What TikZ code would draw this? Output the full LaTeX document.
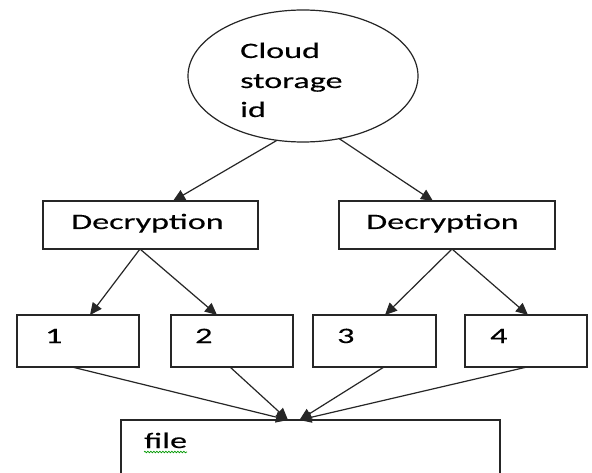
\documentclass[tikz,border=0pt]{standalone}
\usepackage{fontspec}
\setmainfont{Carlito}[FakeStretch=1.55,FakeBold=0.3]
\usetikzlibrary{arrows.meta,calc,shapes.geometric,decorations.pathmorphing}
\begin{document}
\begin{tikzpicture}[x=1pt,y=-1pt,
  box/.style={draw=black!85, line width=1.3pt, rectangle, inner sep=0pt, outer sep=0pt},
  lbl/.style={inner sep=0pt, anchor=base west, font=\fontsize{22}{29.5}\selectfont, text=black},
  conn/.style={draw=black!85, line width=1.2pt, -{Triangle[length=12pt,width=11pt]}},
]
\clip (0,0) rectangle (592,473);
\fill[white] (0,0) rectangle (592,473);
% shapes
\node[draw=black!85, line width=1.2pt, ellipse, inner sep=0pt, outer sep=0pt,
      minimum width=230, minimum height=132] (cloud) at (303,76) {};
\node[box, minimum width=215, minimum height=48] (d1) at (150.5,225) {};
\node[box, minimum width=216, minimum height=48] (d2) at (447,225) {};
\node[box, minimum width=122, minimum height=52] (b1) at (78,341) {};
\node[box, minimum width=122, minimum height=52] (b2) at (232,341) {};
\node[box, minimum width=123, minimum height=52] (b3) at (374.5,341) {};
\node[box, minimum width=122, minimum height=52] (b4) at (526,341) {};
\node[box, minimum width=379, minimum height=70] (file) at (310.5,455) {};
% texts
\node[lbl] (t1) at (240,58) {Cloud};
\node[lbl] (t2) at (240,88) {storage};
\node[lbl] (t3) at (240,117) {id};
\node[lbl] (td1) at (71,229) {Decryption};
\node[lbl] (td2) at (366,229) {Decryption};
\node[lbl] (tb1) at (45,343) {1};
\node[lbl] (tb2) at (195,343) {2};
\node[lbl] (tb3) at (337,343) {3};
\node[lbl] (tb4) at (490,343) {4};
\node[lbl] (tf) at (144,448) {file};
\draw[green!60!black, line width=0.7pt, decorate,
      decoration={snake, segment length=3pt, amplitude=0.8pt}]
  ($(tf.base west)+(0,4)$) -- ($(tf.base east)+(0,4)$);
% connectors
\draw[conn] (cloud.248) -- ($(d1.north)+(22.5,0)$);
\draw[conn] (cloud.300.6) -- ($(d2.north)+(-14,0)$);
\draw[conn] ($(d1.south)+(-10.5,0)$) -- ($(b1.north)+(12,0)$);
\draw[conn] ($(d1.south)+(-10.5,0)$) -- ($(b2.north)+(-15,0)$);
\draw[conn] ($(d2.south)+(5,0)$) -- ($(b3.north)+(10.5,0)$);
\draw[conn] ($(d2.south)+(5,0)$) -- ($(b4.north)+(2,0)$);
\draw[conn] ($(b1.south)+(-6,0)$) -- ($(file.north)+(-22.5,0)$);
\draw[conn] ($(b2.south)+(-2,0)$) -- ($(file.north)+(-22.5,0)$);
\draw[conn] ($(b3.south)+(9.5,0)$) -- ($(file.north)+(-11,0)$);
\draw[conn] ($(b4.south)+(1,0)$) -- ($(file.north)+(-11,0)$);
\end{tikzpicture}
\end{document}
